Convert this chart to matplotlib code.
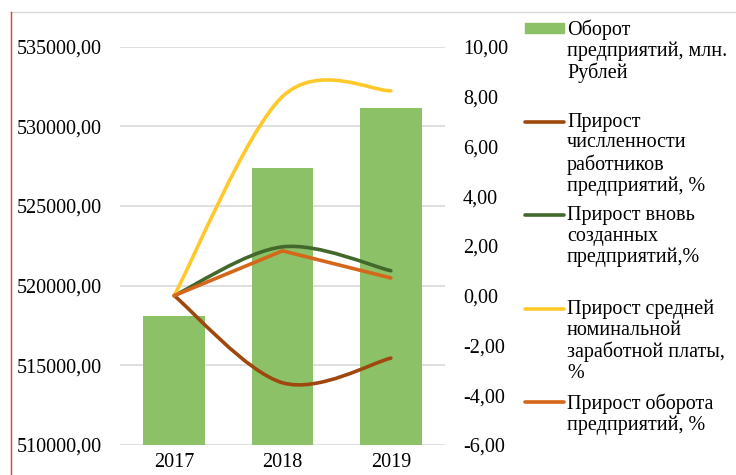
import numpy as np
import matplotlib.pyplot as plt
from matplotlib.path import Path
from matplotlib.patches import PathPatch, Rectangle
from matplotlib.lines import Line2D
from matplotlib.ticker import FuncFormatter

plt.rcParams['font.family'] = ['Liberation Serif', 'DejaVu Serif']
plt.rcParams['font.size'] = 14.5

years = ['2017', '2018', '2019']
turnover = [518100, 527400, 531150]
workers_growth = [0.0, -3.50, -2.51]
new_firms_growth = [0.0, 1.96, 1.00]
wage_growth = [0.0, 8.00, 8.23]
turnover_growth = [0.0, 1.80, 0.71]

labels = [
    'Оборот\nпредприятий, млн.\nРублей',
    'Прирост\nчислленности\nработников\nпредприятий, %',
    'Прирост вновь\nсозданных\nпредприятий,%',
    'Прирост средней\nноминальной\nзаработной платы,\n%',
    'Прирост оборота\nпредприятий, %',
]

bar_color = '#8CC168'
line_colors = ['#9E480E', '#43682B', '#FFC92B', '#D5661A']


def smooth_path(xs, ys):
    # Excel-style smoothed line: cubic Bezier segments through the points
    pts = np.column_stack([xs, ys]).astype(float)
    ext = np.vstack([pts[0], pts, pts[-1]])
    verts = [pts[0]]
    codes = [Path.MOVETO]
    for i in range(len(pts) - 1):
        p0, p1, p2, p3 = ext[i], ext[i + 1], ext[i + 2], ext[i + 3]
        verts += [p1 + (p2 - p0) / 6, p2 - (p3 - p1) / 6, p2]
        codes += [Path.CURVE4] * 3
    return Path(verts, codes)


W, H = 736, 475
fig = plt.figure(figsize=(W / 100, H / 100), dpi=100)
ax = fig.add_axes([120 / W, 1 - 445 / H, 325 / W, (445 - 46.7) / H])
x = np.arange(len(years))

ax.bar(x, turnover, width=0.57, color=bar_color, zorder=2)
ax.set_xlim(-0.5, 2.5)
ax.set_ylim(510000, 535000)
ax.set_yticks(np.arange(510000, 535001, 5000))
ax.set_xticks(x)
ax.set_xticklabels(years)
ax.yaxis.set_major_formatter(FuncFormatter(lambda v, p: f'{v:.2f}'.replace('.', ',')))
ax.set_axisbelow(True)
ax.grid(axis='y', color='#D9D9D9', linewidth=1.2)
ax.tick_params(axis='y', length=0, pad=13)
ax.tick_params(axis='x', length=0, pad=6)
for s in ax.spines.values():
    s.set_visible(False)

ax2 = ax.twinx()
ax2.set_ylim(-6, 10)
ax2.set_yticks(np.arange(-6, 11, 2))
ax2.yaxis.set_major_formatter(FuncFormatter(lambda v, p: f'{v:.2f}'.replace('.', ',')))
ax2.tick_params(axis='y', length=0, pad=13)
for s in ax2.spines.values():
    s.set_visible(False)

series = [workers_growth, new_firms_growth, wage_growth, turnover_growth]
smoothed = [True, True, True, False]
for vals, col, sm in zip(series, line_colors, smoothed):
    if sm:
        ax2.add_patch(PathPatch(smooth_path(x, vals), facecolor='none', edgecolor=col,
                                linewidth=2.6, capstyle='round', joinstyle='round'))
    else:
        ax2.plot(x, vals, color=col, linewidth=2.6, solid_capstyle='round')

# legend drawn entry by entry (Excel gives each entry an equal slot)
for i, lab in enumerate(labels):
    hy = 1 - (28 + i * 93.5) / H
    if i == 0:
        fig.add_artist(Rectangle((525 / W, hy - 5 / H), 39 / W, 10 / H,
                                 transform=fig.transFigure, color=bar_color))
    else:
        fig.add_artist(Line2D([525 / W, 564 / W], [hy, hy], color=line_colors[i - 1],
                              linewidth=2.6, solid_capstyle='round'))
    fig.text(567 / W, hy + 9 / H, lab, ha='left', va='top', linespacing=1.13)

# chart frame
fig.add_artist(Line2D([10 / W, 1], [1 - 12.3 / H] * 2, color='#D9D9D9', linewidth=1))
fig.add_artist(Line2D([10.5 / W] * 2, [0, 1 - 12.3 / H], color='#E33B3B', linewidth=1))

fig.savefig('out.png', dpi=100)
